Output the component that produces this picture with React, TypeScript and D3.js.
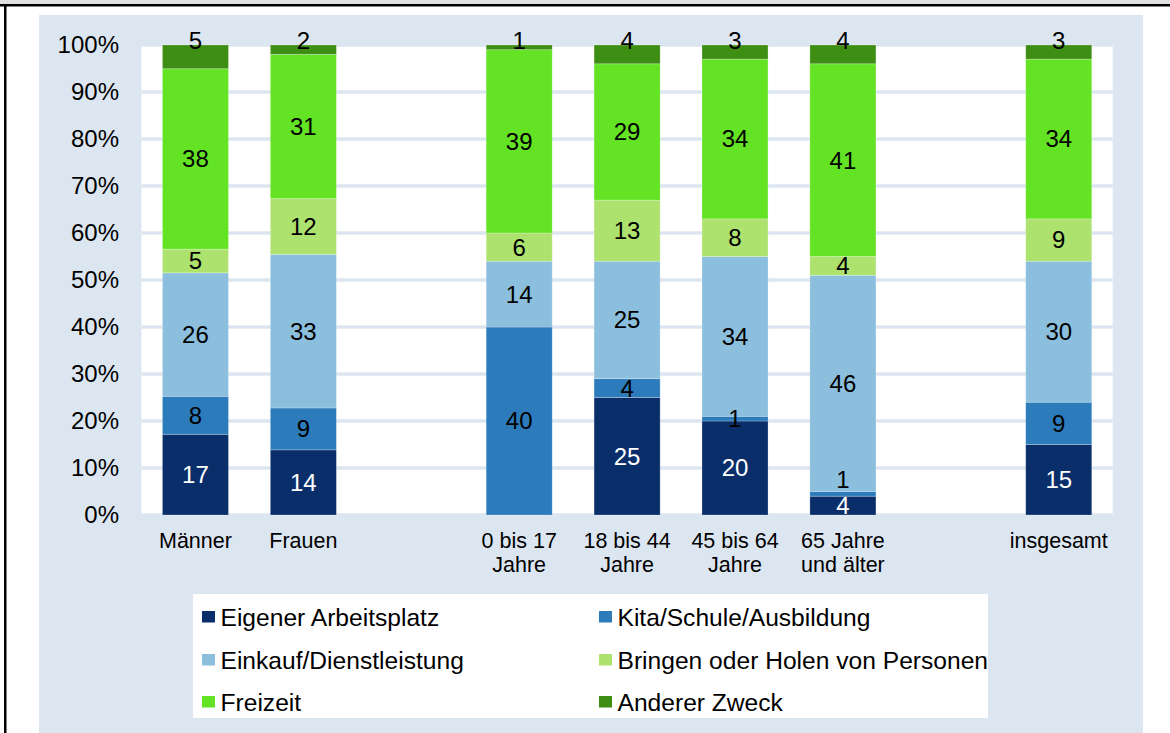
import React from "react";
import * as d3 from "d3";

const categories = [
  "Männer",
  "Frauen",
  "0 bis 17\nJahre",
  "18 bis 44\nJahre",
  "45 bis 64\nJahre",
  "65 Jahre\nund älter",
  "insgesamt",
];
// empty slots between the groups
const slots = [
  "Männer",
  "Frauen",
  "_gap1",
  "0 bis 17\nJahre",
  "18 bis 44\nJahre",
  "45 bis 64\nJahre",
  "65 Jahre\nund älter",
  "_gap2",
  "insgesamt",
];

const seriesNames = [
  "Eigener Arbeitsplatz",
  "Kita/Schule/Ausbildung",
  "Einkauf/Dienstleistung",
  "Bringen oder Holen von Personen",
  "Freizeit",
  "Anderer Zweck",
];
const eigener = [17, 14, 0, 25, 20, 4, 15];
const kita = [8, 9, 40, 4, 1, 1, 9];
const einkauf = [26, 33, 14, 25, 34, 46, 30];
const bringen = [5, 12, 6, 13, 8, 4, 9];
const freizeit = [38, 31, 39, 29, 34, 41, 34];
const anderer = [5, 2, 1, 4, 3, 4, 3];

const colors = ["#0a2e6a", "#2c7bbb", "#8bbfdd", "#aee26f", "#63e324", "#3f8e14"];
const labelColors = ["#ffffff", "#000000", "#000000", "#000000", "#000000", "#000000"];
const yTicks = [0, 0.1, 0.2, 0.3, 0.4, 0.5, 0.6, 0.7, 0.8, 0.9, 1];

const FONT = "'Liberation Sans', Arial, Helvetica, sans-serif";

export default function App() {
  const W = 1170;
  const H = 733;
  const left = 141.5;
  const right = 1112.7;
  const top = 45;
  const bottom = 515;

  const allSeries = [eigener, kita, einkauf, bringen, freizeit, anderer];
  const rows = categories.map((c, i) => {
    const r: any = { cat: c };
    seriesNames.forEach((s, k) => (r[s] = allSeries[k][i]));
    return r;
  });

  const stack = d3.stack<any>().keys(seriesNames).offset(d3.stackOffsetExpand);
  const stacked = stack(rows);

  const x = d3
    .scaleBand<string>()
    .domain(slots)
    .range([left, right])
    .paddingInner(0.388)
    .paddingOuter(0.194);
  const y = d3.scaleLinear().domain([0, 1]).range([bottom, top]);
  const fmt = d3.format(".0%");

  // label positions
  const labels: any[] = [];
  categories.forEach((c, i) => {
    let prevY = Infinity;
    stacked.forEach((layer, k) => {
      const v = allSeries[k][i];
      if (!v) return;
      const seg = layer[i];
      let cy = (y(seg[0]) + y(seg[1])) / 2;
      if (k === seriesNames.length - 1) {
        cy = y(1) - 4;
      } else if (cy > prevY - 26) {
        cy = prevY - 26;
      }
      prevY = cy;
      labels.push({
        x: (x(c) as number) + x.bandwidth() / 2,
        y: cy,
        text: String(v),
        color: labelColors[k],
      });
    });
  });

  const legendCols = [202, 599];
  const legendRows = [617, 660, 702];

  return (
    <svg
      width={W}
      height={H}
      style={{ position: "absolute", left: 0, top: 0, fontFamily: FONT }}
    >
      <rect x={0} y={0} width={W} height={H} fill="#ffffff" />
      <rect x={0} y={0} width={W} height={4.5} fill="#e0e0e0" />
      <rect x={0} y={4} width={W} height={2.5} fill="#000000" />
      <rect x={4} y={4} width={2.5} height={H} fill="#000000" />
      {/* panel */}
      <rect x={39} y={15} width={1104} height={H - 15} fill="#dce6f0" />
      {/* plot area */}
      <rect x={left} y={top} width={right - left} height={bottom - top} fill="#ffffff" />
      {yTicks.map((t) => (
        <line
          key={t}
          x1={left}
          x2={right}
          y1={y(t)}
          y2={y(t)}
          stroke="#dce6f0"
          strokeWidth={3.5}
        />
      ))}
      {yTicks.map((t) => (
        <text
          key={"t" + t}
          x={119}
          y={y(t)}
          dy="0.35em"
          textAnchor="end"
          fontSize={24}
          fill="#000"
        >
          {fmt(t)}
        </text>
      ))}
      {/* bars */}
      {stacked.map((layer, k) => (
        <g key={layer.key} fill={colors[k]}>
          {layer.map((seg, i) => {
            const h = y(seg[0]) - y(seg[1]);
            if (h <= 0) return null;
            return (
              <rect
                key={i}
                x={x(categories[i]) as number}
                y={y(seg[1])}
                width={x.bandwidth()}
                height={h}
                stroke="rgba(255,255,255,0.3)"
                strokeWidth={0.8}
              />
            );
          })}
        </g>
      ))}
      {labels.map((l, i) => (
        <text
          key={"l" + i}
          x={l.x}
          y={l.y}
          dy="0.35em"
          textAnchor="middle"
          fontSize={24}
          fill={l.color}
        >
          {l.text}
        </text>
      ))}
      {/* category labels */}
      {categories.map((c) => {
        const cx = (x(c) as number) + x.bandwidth() / 2;
        return (
          <text key={"c" + c} x={cx} y={548} textAnchor="middle" fontSize={21.5} fill="#000">
            {c.split("\n").map((line, j) => (
              <tspan key={j} x={cx} y={548 + j * 24}>
                {line}
              </tspan>
            ))}
          </text>
        );
      })}
      {/* legend */}
      <rect x={193} y={594} width={795} height={124} fill="#ffffff" />
      {seriesNames.map((s, k) => {
        const lx = legendCols[k % 2];
        const ly = legendRows[Math.floor(k / 2)];
        return (
          <g key={"lg" + s}>
            <rect x={lx} y={ly - 6} width={13} height={11.5} fill={colors[k]} />
            <text x={lx + 18.5} y={ly} dy="0.35em" fontSize={24.6} fill="#000">
              {s}
            </text>
          </g>
        );
      })}
    </svg>
  );
}
